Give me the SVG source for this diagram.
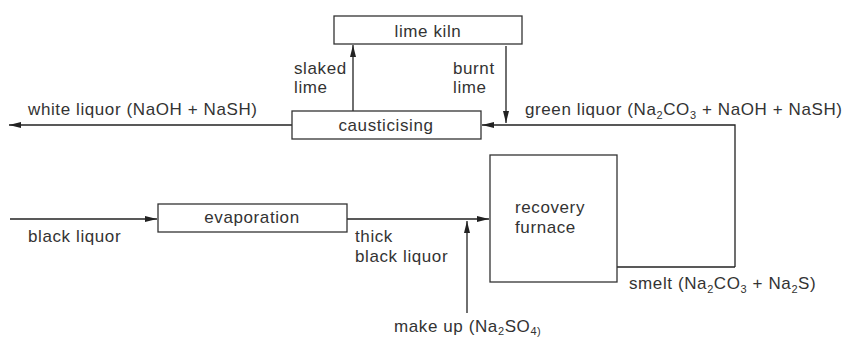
<svg xmlns="http://www.w3.org/2000/svg" width="848" height="338" viewBox="0 0 848 338">
<defs>
<marker id="ah" viewBox="0 0 12 6" refX="12" refY="3" markerWidth="12" markerHeight="6" markerUnits="userSpaceOnUse" orient="auto">
<path d="M0,0 L12,3 L0,6 Z" fill="#222"/>
</marker>
</defs>
<style>
.box{fill:#fff;stroke:#333;stroke-width:1.3}
.ln{fill:none;stroke:#222;stroke-width:1.3}
.t{font-family:"Liberation Sans",Arial,sans-serif;font-size:17px;letter-spacing:0.6px;fill:#333}
.s{font-size:11px}
</style>
<rect width="848" height="338" fill="#fff"/>
<g id="connectors">
<path class="ln" d="M353,112 V45" marker-end="url(#ah)"/>
<path class="ln" d="M506,46 V123" marker-end="url(#ah)"/>
<path class="ln" d="M735,267 V125 H482" marker-end="url(#ah)"/>
<path class="ln" d="M617,267 H735"/>
<path class="ln" d="M292,125 H9" marker-end="url(#ah)"/>
<path class="ln" d="M10,219 H157" marker-end="url(#ah)"/>
<path class="ln" d="M347,219 H489" marker-end="url(#ah)"/>
<path class="ln" d="M467,313 V221" marker-end="url(#ah)"/>
</g>
<g id="lime-kiln">
<rect class="box" x="334" y="16" width="188" height="28"/>
<text class="t" x="428" y="37" text-anchor="middle">lime kiln</text>
</g>
<g id="causticising">
<rect class="box" x="292" y="111" width="189" height="28"/>
<text class="t" x="386" y="131" text-anchor="middle">causticising</text>
</g>
<g id="evaporation">
<rect class="box" x="158" y="204" width="189" height="28"/>
<text class="t" x="252" y="223" text-anchor="middle">evaporation</text>
</g>
<g id="recovery-furnace">
<rect class="box" x="490" y="155" width="127" height="127"/>
<text class="t" x="515" y="213">recovery</text>
<text class="t" x="515" y="233">furnace</text>
</g>
<g id="labels">
<text class="t" x="294" y="74">slaked</text>
<text class="t" x="294" y="93">lime</text>
<text class="t" x="453" y="74">burnt</text>
<text class="t" x="453" y="93">lime</text>
<text class="t" x="28" y="115">white liquor (NaOH + NaSH)</text>
<text class="t" x="525" y="115">green liquor (Na<tspan class="s" dy="4">2</tspan><tspan dy="-4">CO</tspan><tspan class="s" dy="4">3</tspan><tspan dy="-4"> + NaOH + NaSH)</tspan></text>
<text class="t" x="28" y="242">black liquor</text>
<text class="t" x="355" y="242">thick</text>
<text class="t" x="355" y="262">black liquor</text>
<text class="t" x="629" y="289">smelt (Na<tspan class="s" dy="4">2</tspan><tspan dy="-4">CO</tspan><tspan class="s" dy="4">3</tspan><tspan dy="-4"> + Na</tspan><tspan class="s" dy="4">2</tspan><tspan dy="-4">S)</tspan></text>
<text class="t" x="394" y="332">make up (Na<tspan class="s" dy="3">2</tspan><tspan dy="-3">SO</tspan><tspan class="s" dy="3">4)</tspan></text>
</g>
</svg>
